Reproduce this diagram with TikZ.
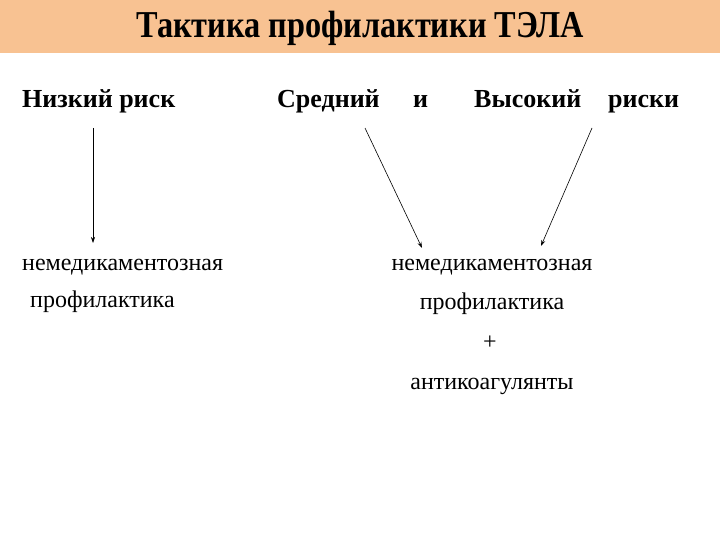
\documentclass[tikz,border=0pt]{standalone}
\usepackage{fontspec}
\setmainfont{Liberation Serif}
\usetikzlibrary{arrows.meta}
\begin{document}
\begin{tikzpicture}[x=1pt,y=-1pt,
 hd/.style={font=\fontsize{26}{30}\selectfont\bfseries,anchor=base west,inner sep=0},
 tx/.style={font=\fontsize{24}{28}\selectfont,inner sep=0},
 ar/.style={-{Stealth[length=6pt,width=4pt]},line width=0.6pt}]
\useasboundingbox (0,0) rectangle (720,540);
\fill[fill={rgb,255:red,248;green,194;blue,146}] (0,0) rectangle (720,53);
\node[font=\fontsize{38}{42}\selectfont\bfseries,inner sep=0,xscale=0.85] (title) at (360,28) {Тактика профилактики ТЭЛА};
\node[hd] (low) at (22,108) {Низкий риск};
\node[hd] (mid) at (277,108) {Средний};
\node[hd] (and) at (413,108) {и};
\node[hd] (high) at (474,108) {Высокий};
\node[hd] (risks) at (608,108) {риски};
\coordinate (a1) at (93,128); \coordinate (b1) at (93,243);
\coordinate (a2) at (365,128); \coordinate (b2) at (422,248);
\coordinate (a3) at (592,128); \coordinate (b3) at (541,246);
\draw[ar] (a1) -- (b1);
\draw[ar] (a2) -- (b2);
\draw[ar] (a3) -- (b3);
\node[tx,anchor=base west] (l1) at (22,270) {немедикаментозная};
\node[tx,anchor=base west] (l2) at (30,307) {профилактика};
\node[tx,anchor=base] (r1) at (492,270) {немедикаментозная};
\node[tx,anchor=base] (r2) at (492,309) {профилактика};
\node[tx,anchor=base] (r3) at (490,349) {+};
\node[tx,anchor=base] (r4) at (492,389) {антикоагулянты};
\end{tikzpicture}
\end{document}
